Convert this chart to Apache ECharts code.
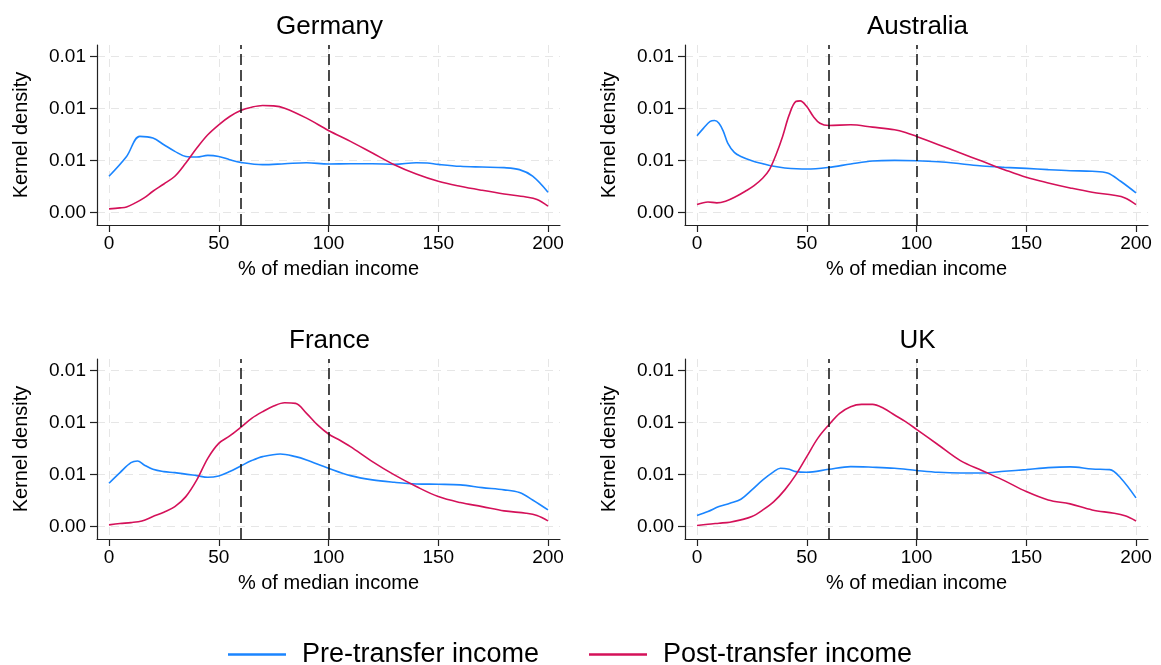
<!DOCTYPE html>
<html>
<head>
<meta charset="utf-8">
<script src="https://cdn.jsdelivr.net/npm/echarts@6/dist/echarts.min.js"></script>
<style>
  html, body { margin: 0; padding: 0; background: #fff; }
  #chart { width: 1161px; height: 665px; }
</style>
</head>
<body>
<div id="chart"></div>
<script>
// panels, in drawing order
const countries = ['Germany', 'Australia', 'France', 'UK'];

// x ticks (% of median income) and y ticks (density)
const xTicks = [0, 50, 100, 150, 200];
const yTicks = [0, 0.005, 0.01, 0.015];
const yTickLabels = ['0.00', '0.01', '0.01', '0.01'];
// poverty lines drawn as dashed verticals
const refLines = [60, 100];

// kernel density estimates, [income %, density]
const germanyPre = [[0,0.0035],[8,0.0054],[14,0.00733],[20,0.00717],[25,0.00653],[30,0.00589],[35,0.0054],[40,0.00534],
  [45,0.0055],[50,0.0054],[55,0.00509],[60,0.00483],[70,0.00461],[80,0.0047],[90,0.0048],[100,0.00467],[110,0.0047],
  [120,0.0047],[130,0.00464],[140,0.0048],[145,0.00477],[150,0.00464],[160,0.00445],[170,0.00438],[180,0.00432],
  [187,0.00413],[193,0.0035],[200,0.00195]];
const germanyPost = [[0,0.00035],[5,0.00045],[8,0.00054],[12,0.00093],[16,0.00141],[20,0.00205],[25,0.00275],[30,0.00349],
  [35,0.00477],[40,0.00621],[45,0.00749],[50,0.00845],[55,0.00925],[60,0.00982],[65,0.01014],[70,0.0103],[75,0.01027],
  [80,0.01005],[90,0.00909],[100,0.0079],[110,0.00685],[120,0.00573],[130,0.00461],[140,0.00371],[150,0.00301],
  [160,0.00253],[170,0.00214],[180,0.00179],[190,0.0015],[195,0.00125],[200,0.00061]];

const australiaPre = [[0,0.00739],[3,0.00813],[6,0.00877],[8,0.00886],[10,0.0086],[12,0.00781],[14,0.00669],[17,0.00579],
  [20,0.0054],[25,0.00499],[30,0.0047],[35,0.00445],[40,0.00429],[50,0.00419],[60,0.00435],[70,0.00467],[80,0.00496],
  [90,0.00502],[100,0.00499],[110,0.00489],[120,0.0047],[130,0.00448],[140,0.00435],[150,0.00425],[160,0.00413],
  [170,0.00403],[180,0.00397],[187,0.00381],[193,0.00301],[200,0.00189]];
const australiaPost = [[0,0.00077],[5,0.00102],[9,0.00093],[13,0.00109],[18,0.00157],[22,0.00205],[26,0.00259],[30,0.00333],
  [33,0.00413],[36,0.00557],[39,0.00733],[42,0.0094],[45,0.01069],[47,0.01075],[50,0.0102],[53,0.00925],[56,0.0086],
  [60,0.00838],[70,0.00845],[80,0.00822],[90,0.00797],[95,0.00771],[100,0.00733],[110,0.00653],[120,0.00573],
  [130,0.00493],[140,0.00413],[150,0.00339],[160,0.00285],[170,0.00237],[180,0.00195],[190,0.00166],[195,0.00141],
  [200,0.00077]];

const francePre = [[0,0.00417],[5,0.00519],[10,0.00615],[13,0.00631],[16,0.00593],[20,0.00551],[25,0.00529],[30,0.00519],
  [40,0.0049],[45,0.00474],[50,0.00487],[55,0.00529],[60,0.00583],[65,0.00635],[70,0.00673],[78,0.00699],[85,0.00673],
  [90,0.00641],[100,0.00561],[110,0.0049],[120,0.00449],[130,0.00426],[140,0.0041],[150,0.00407],[160,0.00401],
  [170,0.00375],[180,0.00353],[187,0.00327],[193,0.00256],[200,0.0016]];
const francePost = [[0,0.00016],[5,0.00029],[10,0.00038],[15,0.00054],[20,0.00096],[25,0.00138],[30,0.00192],[35,0.00288],
  [40,0.00449],[45,0.00657],[50,0.00801],[55,0.00872],[60,0.00955],[65,0.01042],[70,0.01106],[75,0.0116],[80,0.01192],
  [85,0.01186],[90,0.0109],[95,0.00978],[100,0.00891],[105,0.00833],[110,0.00769],[120,0.00625],[130,0.00497],
  [140,0.00385],[150,0.00288],[160,0.00231],[170,0.00192],[180,0.00151],[190,0.00128],[195,0.00106],[200,0.00054]];

const ukPre = [[0,0.00106],[5,0.00144],[10,0.00192],[15,0.00224],[20,0.00263],[25,0.00353],[30,0.00449],[35,0.00529],
  [38,0.00561],[42,0.00551],[45,0.00529],[50,0.00522],[60,0.00551],[70,0.00577],[80,0.00571],[90,0.00561],[100,0.0054],
  [110,0.00522],[120,0.00516],[130,0.00516],[140,0.00532],[150,0.00548],[160,0.00567],[170,0.00574],[180,0.00554],
  [188,0.00548],[193,0.00468],[200,0.00276]];
const ukPost = [[0,0.0001],[5,0.00022],[10,0.00032],[15,0.00042],[20,0.00064],[25,0.00096],[30,0.0016],[35,0.0024],
  [40,0.00353],[45,0.00497],[50,0.00673],[55,0.00849],[60,0.00978],[65,0.0109],[70,0.01154],[75,0.01176],[80,0.01176],
  [85,0.01138],[90,0.01074],[95,0.0101],[100,0.00936],[110,0.00785],[120,0.00635],[130,0.00538],[140,0.00442],
  [150,0.00337],[160,0.00256],[170,0.00218],[180,0.0016],[190,0.00128],[195,0.00103],[200,0.00054]];

const preSeries = [germanyPre, australiaPre, francePre, ukPre];
const postSeries = [germanyPost, australiaPost, francePost, ukPost];

const FONT = "'Liberation Sans', Arial, sans-serif";
const BLUE = '#1a85ff';
const RED = '#d41159';

// plot-area boxes (px) for the 2x2 layout
const panelLeft = [97, 685, 97, 685];
const panelTop = [45, 45, 359, 359];
const PW = 463, PH = 180;

let myChart = echarts.init(document.getElementById('chart'), null, { renderer: 'canvas' });

let grids = [], xAxes = [], yAxes = [], titles = [], series = [];
countries.forEach(function (name, i) {
  grids.push({ left: panelLeft[i], top: panelTop[i], width: PW, height: PH });
  titles.push({
    text: name,
    left: panelLeft[i] + PW / 2 - 4,
    top: panelTop[i] - 36,
    textAlign: 'center',
    textStyle: { fontFamily: FONT, fontSize: 26, fontWeight: 'normal', color: '#000' }
  });
  xAxes.push({
    type: 'value', gridIndex: i, min: -5.47, max: 205.47,
    name: '% of median income', nameLocation: 'middle', nameGap: 34,
    nameTextStyle: { fontFamily: FONT, fontSize: 20, color: '#000' },
    axisLine: { show: true, onZero: false, lineStyle: { color: '#222', width: 1.2 } },
    axisTick: { show: true, length: 7, customValues: xTicks, lineStyle: { color: '#222', width: 1.2 } },
    axisLabel: { customValues: xTicks, margin: 9, fontFamily: FONT, fontSize: 19, color: '#000' },
    splitLine: { show: true, lineStyle: { color: '#e6e6e6', width: 1, type: [8, 6] } }
  });
  yAxes.push({
    type: 'value', gridIndex: i, min: -0.0012, max: 0.01613,
    name: 'Kernel density', nameLocation: 'middle', nameGap: 66,
    nameTextStyle: { fontFamily: FONT, fontSize: 20, color: '#000' },
    axisLine: { show: true, onZero: false, lineStyle: { color: '#222', width: 1.2 } },
    axisTick: { show: true, length: 7, customValues: yTicks, lineStyle: { color: '#222', width: 1.2 } },
    axisLabel: {
      customValues: yTicks, margin: 11, fontFamily: FONT, fontSize: 19, color: '#000',
      formatter: function (v) {
        let k = yTicks.findIndex(function (t) { return Math.abs(t - v) < 1e-9; });
        return k >= 0 ? yTickLabels[k] : '';
      }
    },
    splitLine: { show: true, lineStyle: { color: '#e6e6e6', width: 1, type: [8, 6] } }
  });
  series.push({
    name: 'Pre-transfer income', type: 'line', xAxisIndex: i, yAxisIndex: i,
    data: preSeries[i], smooth: 0.35, showSymbol: false, symbol: 'none',
    lineStyle: { color: BLUE, width: 1.6 }, itemStyle: { color: BLUE },
    markLine: {
      silent: true, symbol: 'none', label: { show: false },
      lineStyle: { color: '#111', width: 1.5, type: [11, 5] },
      data: refLines.map(function (x) { return { xAxis: x }; })
    }
  });
  series.push({
    name: 'Post-transfer income', type: 'line', xAxisIndex: i, yAxisIndex: i,
    data: postSeries[i], smooth: 0.35, showSymbol: false, symbol: 'none',
    lineStyle: { color: RED, width: 1.6 }, itemStyle: { color: RED }
  });
});

let legendBase = {
  top: 636, icon: 'rect', itemWidth: 58, itemHeight: 2.5,
  textStyle: { fontFamily: FONT, fontSize: 27, color: '#000', padding: [0, 0, 0, 11] }
};

let option = {
  animation: false,
  backgroundColor: '#fff',
  title: titles,
  grid: grids,
  xAxis: xAxes,
  yAxis: yAxes,
  legend: [
    Object.assign({ left: 223, data: ['Pre-transfer income'] }, legendBase),
    Object.assign({ left: 584, data: ['Post-transfer income'] }, legendBase)
  ],
  series: series
};
myChart.setOption(option);
</script>
</body>
</html>
